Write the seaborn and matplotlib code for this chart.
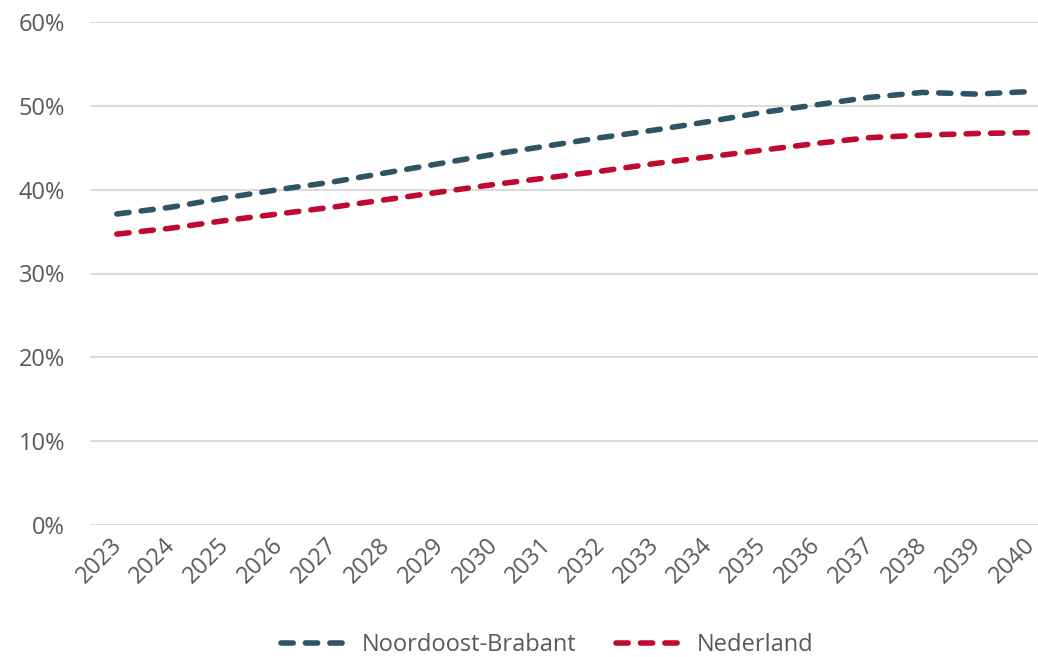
import pandas as pd
import seaborn as sns
import matplotlib.pyplot as plt
import matplotlib.transforms as mtransforms
from matplotlib.ticker import FuncFormatter

jaren = list(range(2023, 2041))
noordoost_brabant = [37.1, 37.9, 39.0, 40.0, 40.9, 42.0, 43.1, 44.2, 45.2, 46.2,
                     47.1, 48.1, 49.2, 50.1, 51.0, 51.6, 51.4, 51.7]
nederland = [34.7, 35.4, 36.3, 37.1, 37.9, 38.8, 39.7, 40.6, 41.4, 42.2,
             43.1, 43.9, 44.7, 45.5, 46.2, 46.5, 46.7, 46.8]

df = pd.DataFrame({
    "jaar": jaren * 2,
    "waarde": noordoost_brabant + nederland,
    "regio": ["Noordoost-Brabant"] * len(jaren) + ["Nederland"] * len(jaren),
})

sns.set_style("white")
plt.rcParams["font.family"] = ["Open Sans", "DejaVu Sans"]

grijs = "#595959"
kleuren = {"Noordoost-Brabant": "#2d5565", "Nederland": "#be0a30"}

fig = plt.figure(figsize=(10.38, 6.57), dpi=100)
ax = fig.add_axes([90 / 1038, 1 - 525 / 657, 1 - 90 / 1038, (525 - 22) / 657])

sns.lineplot(data=df, x="jaar", y="waarde", hue="regio", palette=kleuren,
             linewidth=4, ax=ax, legend=False)
for line in ax.lines:
    line.set_dashes((2.2, 2.2))
    line.set_dash_capstyle("round")

ax.set_ylim(0, 60)
ax.set_xlim(2022.5, 2040.15)
ax.set_yticks(range(0, 61, 10))
ax.yaxis.set_major_formatter(FuncFormatter(lambda v, p: f"{v:.0f}%"))
ax.set_xticks(jaren)
ax.set_xticklabels([str(j) for j in jaren], rotation=45, ha="right",
                   rotation_mode="anchor")
ax.grid(axis="y", color="#d9d9d9", linewidth=1.3)
ax.set_axisbelow(True)
for s in ax.spines.values():
    s.set_visible(False)
ax.tick_params(axis="both", length=0, labelsize=17, colors=grijs)
ax.tick_params(axis="y", pad=18)
ax.tick_params(axis="x", pad=6)
# labels een paar pixels naar links, zodat 2040 binnen beeld blijft
verschuif = mtransforms.ScaledTranslation(-5 / 72, 0, fig.dpi_scale_trans)
for lbl in ax.get_xticklabels():
    lbl.set_transform(lbl.get_transform() + verschuif)
ax.set_xlabel("")
ax.set_ylabel("")

handles = [plt.Line2D([], [], color=kleuren[r], linewidth=4,
                      dashes=(2.2, 2.2), dash_capstyle="round")
           for r in kleuren]
fig.legend(handles, list(kleuren), loc="center", bbox_to_anchor=(0.527, 1 - 645 / 657),
           ncol=2, frameon=False, fontsize=17, labelcolor=grijs,
           handlelength=2.8, columnspacing=1.7, handletextpad=0.6)

fig.savefig("out.png", dpi=100)
